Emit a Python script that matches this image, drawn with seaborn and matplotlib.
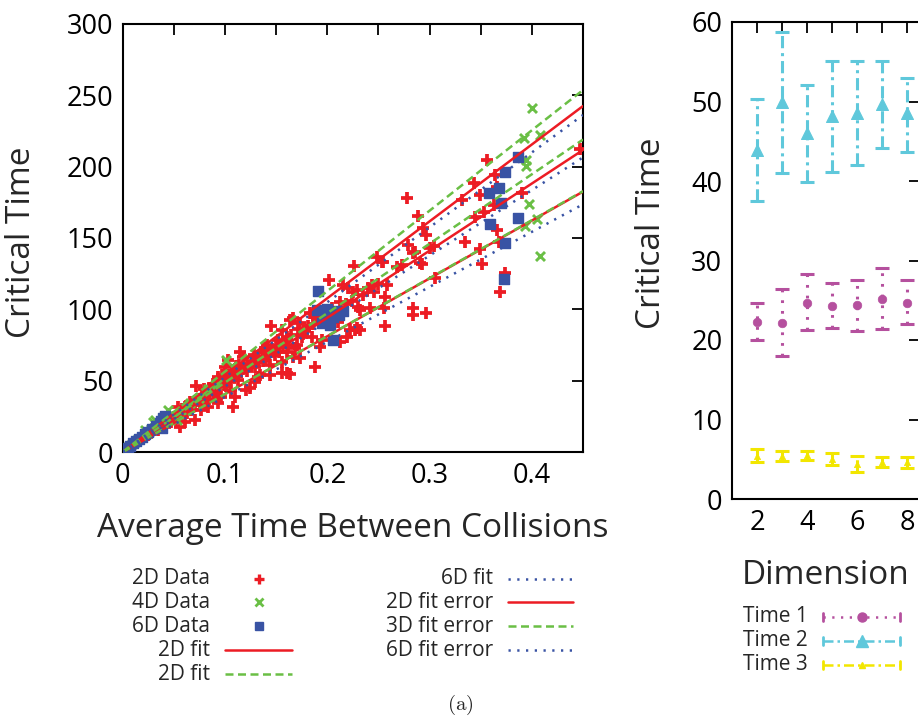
import numpy as np
import pandas as pd
import matplotlib
matplotlib.use("Agg")
import matplotlib.pyplot as plt
from matplotlib.lines import Line2D
import seaborn as sns

# ---------------- data: left panel ----------------
d2_x = [0.004, 0.009, 0.013, 0.017, 0.021, 0.025, 0.028, 0.031, 0.0345, 0.038, 0.041, 0.044, 0.0475, 0.050,
        0.054, 0.056, 0.057, 0.060, 0.0607, 0.061, 0.064, 0.067, 0.069, 0.0704, 0.072, 0.074, 0.077, 0.078,
        0.080, 0.082, 0.0835, 0.085, 0.087, 0.089, 0.091, 0.093, 0.093, 0.095, 0.0965, 0.098, 0.0998, 0.101,
        0.103, 0.104, 0.106, 0.107, 0.108, 0.1096, 0.111, 0.1128, 0.1144, 0.116, 0.1177, 0.119, 0.121, 0.1242,
        0.126, 0.1278, 0.1291, 0.1294, 0.131, 0.1324, 0.134, 0.136, 0.139, 0.1392, 0.1409, 0.1441, 0.1441,
        0.1448, 0.149, 0.1522, 0.1555, 0.1555, 0.1555, 0.1571, 0.1604, 0.1604, 0.1604, 0.1637, 0.1637, 0.1669,
        0.1669, 0.1686, 0.1702, 0.1734, 0.1734, 0.1751, 0.178, 0.1832, 0.1849, 0.1881, 0.1881, 0.193, 0.1947,
        0.2021, 0.2028, 0.2109, 0.2126, 0.2126, 0.2158, 0.2191, 0.2207, 0.2224, 0.2256, 0.2266, 0.2273, 0.229,
        0.229, 0.2305, 0.2322, 0.2322, 0.2419, 0.2436, 0.2452, 0.2485, 0.2534, 0.2544, 0.2558, 0.2566, 0.2566,
        0.258, 0.268, 0.273, 0.278, 0.279, 0.284, 0.284, 0.284, 0.286, 0.289, 0.291, 0.2925, 0.294, 0.297,
        0.297, 0.3006, 0.304, 0.3055, 0.3316, 0.3349, 0.343, 0.3446, 0.3495, 0.3495, 0.3512, 0.353, 0.356,
        0.3626, 0.3642, 0.366, 0.366, 0.3675, 0.369, 0.374, 0.390, 0.447,
        0.046, 0.052, 0.058, 0.063, 0.066, 0.071, 0.076, 0.079, 0.084, 0.088, 0.090, 0.094, 0.097, 0.100,
        0.102, 0.105, 0.109, 0.112, 0.114, 0.118, 0.122, 0.125, 0.128, 0.133, 0.137, 0.142, 0.146, 0.150,
        0.153, 0.158, 0.162, 0.165, 0.171, 0.176, 0.181, 0.186, 0.190, 0.197, 0.205, 0.218, 0.224, 0.235,
        0.240, 0.250]
d2_y = [2.0, 4.5, 6.5, 8.5, 10.7, 12.0, 13.1, 15.5, 15.4, 18.5, 17.7, 21.0, 21.2, 24.5,
        31.8, 17.7, 25.9, 28.0, 21.2, 31.8, 31.0, 29.4, 34.0, 22.4, 46.5, 37.0, 29.4, 40.0,
        38.8, 42.0, 31.8, 45.0, 43.5, 40.0, 47.0, 34.1, 52.8, 49.0, 38.8, 51.0, 59.8, 46.0,
        64.5, 54.0, 43.5, 57.0, 31.8, 38.8, 60.0, 50.5, 70.3, 56.0, 66.8, 62.0, 43.5, 44.6,
        64.0, 62.2, 59.8, 49.3, 66.8, 52.8, 54.0, 70.0, 72.7, 64.5, 75.0, 61.0, 54.0,
        88.3, 68.0, 78.5, 85.5, 63.3, 55.2, 73.8, 80.8, 70.3, 55.2, 92.5, 54.7, 93.7,
        66.8, 72.7, 75.0, 90.2, 65.7, 80.8, 85.0, 97.2, 80.8, 94.8, 59.8, 73.8, 78.5,
        120.6, 98.3, 91.3, 105.3, 77.3, 117.1, 80.8, 114.7, 85.5, 112.4, 130.6, 85.5, 113.5,
        86.7, 101.8, 99.5, 85.5, 100.7, 117.0, 112.4, 136.5, 133.4, 133.0, 100.7, 108.9, 88.5,
        117.0, 129.9, 131.0, 177.8, 145.0, 139.3, 100.7, 95.8, 140.4, 165.4, 132.3, 131.8, 156.8, 152.0,
        97.6, 142.8, 144.6, 121.7, 176.6, 147.4, 188.8, 164.9, 180.1, 142.0, 131.5, 168.4, 204.7,
        173.1, 194.2, 186.0, 155.6, 147.4, 112.4, 125.2, 181.3, 212.2,
        23.0, 22.0, 30.0, 27.0, 35.0, 33.0, 34.0, 44.0, 37.0, 48.0, 42.0, 44.0, 54.0, 47.0,
        52.0, 49.0, 56.0, 53.0, 61.0, 58.0, 57.0, 60.0, 68.0, 63.0, 64.0, 67.0, 72.0, 74.0,
        70.0, 77.0, 75.0, 82.0, 86.0, 83.0, 88.0, 90.0, 93.0, 95.0, 101.0, 104.0, 106.0, 110.0,
        115.0, 118.0]

d4_x = [0.002, 0.005, 0.008, 0.012, 0.015, 0.0215, 0.025, 0.028, 0.0297, 0.0313, 0.036, 0.040, 0.0443,
        0.0528, 0.058, 0.066, 0.075, 0.083, 0.092, 0.1014, 0.3926, 0.394, 0.3945, 0.3936, 0.3968, 0.400,
        0.405, 0.408, 0.408]
d4_y = [1.5, 3.5, 5.0, 7.0, 9.0, 15.4, 13.0, 16.0, 21.2, 22.4, 20.0, 22.0, 29.4,
        22.4, 29.0, 34.0, 38.0, 44.0, 48.0, 64.5, 219.9, 204.7, 200.5, 158.4, 173.8, 241.3,
        163.3, 222.2, 137.4]

d6_x = [0.001, 0.003, 0.005, 0.007, 0.010, 0.013, 0.016, 0.019, 0.022, 0.025, 0.029, 0.033, 0.036, 0.038,
        0.039, 0.041, 0.037, 0.1898, 0.1914, 0.1947, 0.1996, 0.2028, 0.206, 0.211, 0.2054, 0.200, 0.208,
        0.215, 0.3577, 0.3587, 0.368, 0.370, 0.3724, 0.3733, 0.374, 0.3864, 0.386]
d6_y = [0.5, 2.0, 3.0, 4.5, 6.0, 7.5, 9.0, 10.5, 12.5, 14.0, 16.0, 18.5, 20.5, 16.5,
        23.5, 25.5, 22.0, 99.5, 112.8, 90.2, 93.7, 89.0, 94.8, 96.0, 78.5, 100.0, 98.5,
        99.0, 181.3, 159.6, 184.8, 174.3, 121.3, 196.5, 146.3, 163.8, 207.0]

# fitted lines (value at x = 0, 0.45)
fit_x = [0.0, 0.45]
fit_2d = [0.0, 211.7]
fit_2d_hi = [0.0, 242.5]
fit_2d_lo = [0.0, 182.5]
fit_4d = [0.0, 219.0]
fit_4d_hi = [0.0, 253.7]
fit_4d_lo = [0.0, 182.8]
fit_6d = [0.0, 206.5]
fit_6d_hi = [0.0, 236.2]
fit_6d_lo = [0.0, 173.6]

# ---------------- data: right panel ----------------
dims = [2, 3, 4, 5, 6, 7, 8]
t1 = [22.3, 22.1, 24.7, 24.3, 24.4, 25.2, 24.7]
t1_lo = [20.0, 18.0, 21.2, 21.5, 21.1, 21.4, 22.0]
t1_hi = [24.7, 26.4, 28.3, 27.2, 27.6, 29.1, 27.6]
t2 = [43.9, 49.9, 46.0, 48.2, 48.6, 49.7, 48.5]
t2_lo = [37.5, 41.0, 39.9, 41.1, 42.0, 44.2, 43.7]
t2_hi = [50.3, 58.8, 52.1, 55.1, 55.1, 55.1, 53.0]
t3 = [5.45, 5.45, 5.5, 5.0, 4.4, 4.7, 4.6]
t3_lo = [4.7, 4.8, 4.9, 4.3, 3.4, 4.06, 3.86]
t3_hi = [6.25, 6.1, 6.0, 5.75, 5.4, 5.3, 5.3]

# ---------------- style ----------------
sns.set_theme(style="white")
plt.rcParams["font.family"] = ["Open Sans", "DejaVu Sans"]
plt.rcParams["mathtext.fontset"] = "cm"

RED = "#ec1c24"
GREEN = "#6abf45"
BLUE = "#3953a4"
MAG = "#b5509e"
CYAN = "#5fc8db"
YEL = "#f2e600"
DASH = (0, (3.2, 1.8))
DOT = (0, (0.9, 2.6))
DASHDOT = (0, (4, 1.6, 1, 1.6))

W, H = 918, 721
fig = plt.figure(figsize=(W / 100, H / 100), dpi=100)


def fx(px):
    return px / W


def fy(py):
    return 1 - py / H


ax1 = fig.add_axes([fx(122.7), fy(452), fx(583) - fx(122.7), fy(24) - fy(452)])
ax2 = fig.add_axes([fx(732), fy(499), fx(920) - fx(732), fy(22) - fy(499)])

# ---- left panel ----
sns.scatterplot(x=d2_x, y=d2_y, ax=ax1, marker="+", color=RED, s=75, linewidth=2.7, zorder=3)
sns.scatterplot(x=d4_x, y=d4_y, ax=ax1, marker="x", color=GREEN, s=42, linewidth=2.1, zorder=3)
sns.scatterplot(x=d6_x, y=d6_y, ax=ax1, marker="s", color=BLUE, edgecolor=BLUE, s=50, linewidth=1.0, zorder=3)

lw = 1.8
for ys in (fit_2d, fit_2d_hi, fit_2d_lo):
    sns.lineplot(x=fit_x, y=ys, ax=ax1, color=RED, linewidth=lw, zorder=4)
for ys in (fit_4d, fit_4d_hi, fit_4d_lo):
    sns.lineplot(x=fit_x, y=ys, ax=ax1, color=GREEN, linewidth=lw, linestyle=DASH, zorder=5)
for ys in (fit_6d, fit_6d_hi, fit_6d_lo):
    sns.lineplot(x=fit_x, y=ys, ax=ax1, color=BLUE, linewidth=lw, linestyle=DOT, zorder=5)

ax1.set_xlim(0, 0.45)
ax1.set_ylim(0, 300)
xt = np.round(np.arange(0, 0.451, 0.05), 2)
ax1.set_xticks(xt)
ax1.set_xticklabels([("0" if v == 0 else f"{v:g}") if abs(v * 10 - round(v * 10)) < 1e-6 else "" for v in xt])
ax1.set_yticks(range(0, 301, 50))
ax1.set_xlabel("Average Time Between Collisions", fontsize=24, labelpad=16)
ax1.set_ylabel("Critical Time", fontsize=24)

# ---- right panel ----
series = [(t1, t1_lo, t1_hi, MAG, DOT, "o", 38),
          (t2, t2_lo, t2_hi, CYAN, DASHDOT, "^", 75),
          (t3, t3_lo, t3_hi, YEL, DASHDOT, "^", 22)]
for vals, lo, hi, col, ls, mk, sz in series:
    v = np.array(vals)
    err = [v - np.array(lo), np.array(hi) - v]
    eb = ax2.errorbar(dims, v, yerr=err, fmt="none", ecolor=col, elinewidth=2.2,
                      capsize=5, capthick=2.2, zorder=2)
    eb[2][0].set_linestyle(ls)
    sns.scatterplot(x=dims, y=vals, ax=ax2, marker=mk, color=col, edgecolor=col, s=sz, zorder=3)

ax2.set_xlim(1, 8.52)
ax2.set_ylim(0, 60)
ax2.set_xticks(range(1, 9))
ax2.set_xticklabels([str(i) if i % 2 == 0 else "" for i in range(1, 9)])
ax2.set_yticks(range(0, 61, 10))
ax2.set_xlabel("Dimension", fontsize=24, labelpad=16)
ax2.set_ylabel("Critical Time", fontsize=24)

for ax in (ax1, ax2):
    ax.tick_params(direction="in", length=8, width=1.3, top=True, right=True,
                   labelsize=19.5, pad=7, colors="black")
    for sp in ax.spines.values():
        sp.set_linewidth(1.5)
        sp.set_color("black")
    ax.grid(False)

ax1.yaxis.set_label_coords(-0.184, 0.49)
ax2.yaxis.set_label_coords(-0.34, 0.558)

# ---------------- manual legends (gnuplot style: text then sample) ----------------
FS = 15


def entry(label, x_text, ha, y, x0, x1, color, ls=None, marker=None, ms=None, mew=None, caps=False):
    fig.text(fx(x_text), fy(y), label, ha=ha, va="center", fontsize=FS)
    if ls is not None:
        fig.add_artist(Line2D([fx(x0), fx(x1)], [fy(y), fy(y)], transform=fig.transFigure,
                              color=color, linestyle=ls, linewidth=lw))
    if caps:
        for xc in (x0, x1):
            fig.add_artist(Line2D([fx(xc), fx(xc)], [fy(y - 4), fy(y + 4)], transform=fig.transFigure,
                                  color=color, linewidth=2))
    if marker is not None:
        xm = (x0 + x1) / 2
        fig.add_artist(Line2D([fx(xm)], [fy(y)], transform=fig.transFigure, color=color,
                              marker=marker, markersize=ms, markeredgewidth=mew, linestyle="none"))


rows = [579, 602, 626, 650, 674]
entry("2D Data", 210, "right", rows[0], 225, 292, RED, marker="+", ms=6.5, mew=2.4)
entry("4D Data", 210, "right", rows[1], 225, 292, GREEN, marker="x", ms=5.5, mew=2.0)
entry("6D Data", 210, "right", rows[2], 225, 292, BLUE, marker="s", ms=6, mew=1.0)
entry("2D fit", 210, "right", rows[3], 225, 292, RED, ls="-")
entry("2D fit", 210, "right", rows[4], 225, 292, GREEN, ls=DASH)
entry("6D fit", 493, "right", rows[0], 508, 573, BLUE, ls=DOT)
entry("2D fit error", 493, "right", rows[1], 508, 573, RED, ls="-")
entry("3D fit error", 493, "right", rows[2], 508, 573, GREEN, ls=DASH)
entry("6D fit error", 493, "right", rows[3], 508, 573, BLUE, ls=DOT)

rrows = [617, 641, 665]
entry("Time 1", 743, "left", rrows[0], 823, 900, MAG, ls=DOT, marker="o", ms=6.5, mew=1, caps=True)
entry("Time 2", 743, "left", rrows[1], 823, 900, CYAN, ls=DASHDOT, marker="^", ms=8.5, mew=1, caps=True)
entry("Time 3", 743, "left", rrows[2], 823, 900, YEL, ls=DASHDOT, marker="^", ms=5, mew=1, caps=True)

fig.text(fx(460), fy(705), r"$(\mathrm{a})$", ha="center", va="center", fontsize=15)

fig.savefig("out.png", dpi=100)
